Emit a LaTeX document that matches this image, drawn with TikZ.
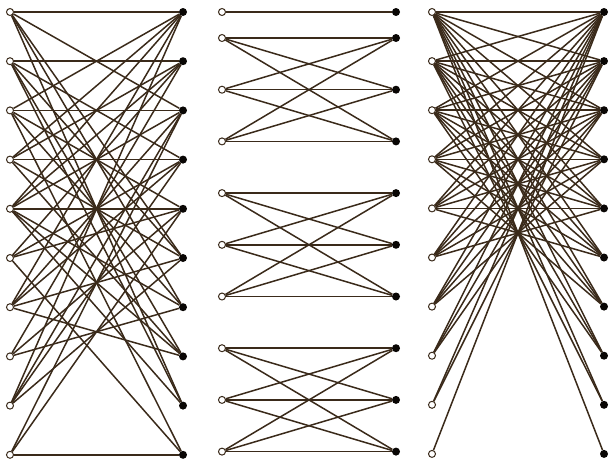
\documentclass[tikz,border=0pt]{standalone}
\usepackage{tikz}
\definecolor{wire}{RGB}{58,42,26}
\tikzset{
  opendot/.style={circle,draw=wire,fill=white,line width=1pt,inner sep=0pt,minimum size=7pt},
  fulldot/.style={circle,fill=black!85!wire,inner sep=0pt,minimum size=8pt},
  link/.style={draw=wire,line width=1.5pt}
}
\begin{document}
\begin{tikzpicture}[x=1pt,y=-1pt]
\useasboundingbox (0,0) rectangle (609,461);
% vertices of the three graphs
\foreach \i in {1,...,10}{
  \node[opendot] (p\i) at (10,12+49.2*\i-49.2) {};
  \node[fulldot] (q\i) at (183,12+49.2*\i-49.2) {};
  \node[opendot] (u\i) at (432,12+49.1*\i-49.1) {};
  \node[fulldot] (v\i) at (604,12+49.1*\i-49.1) {};
}
\node[opendot] (m1) at (222,12) {};
\node[fulldot] (n1) at (396,12) {};
\foreach \i in {2,...,10}{
  \node[opendot] (m\i) at (222,38+51.7*\i-103.4) {};
  \node[fulldot] (n\i) at (396,38+51.7*\i-103.4) {};
}
% left graph
\foreach \i/\j in {1/1,1/3,1/6,1/7,1/9,
                   2/2,2/4,2/6,2/8,2/9,
                   3/3,3/1,3/5,3/7,3/10,
                   4/4,4/1,4/2,4/6,4/8,
                   5/5,5/1,5/2,5/3,5/7,5/8,5/9,
                   6/2,6/4,6/5,6/10,
                   7/1,7/3,7/4,7/6,7/8,
                   8/2,8/5,8/7,
                   9/1,9/3,9/4,9/6,
                   10/10,10/3,10/5}
  \draw[link] (p\i) -- (q\j);
% middle graph
\draw[link] (m1) -- (n1);
\foreach \g in {2,5,8}
  \foreach \a in {0,1,2}
    \foreach \b in {0,1,2}{
      \pgfmathtruncatemacro\s{\g+\a}
      \pgfmathtruncatemacro\t{\g+\b}
      \draw[link] (m\s) -- (n\t);
    }
% right graph
\foreach \i in {1,...,10}{
  \pgfmathtruncatemacro\k{11-\i}
  \foreach \j in {1,...,\k}
    \draw[link] (u\i) -- (v\j);
}
\end{tikzpicture}
\end{document}
